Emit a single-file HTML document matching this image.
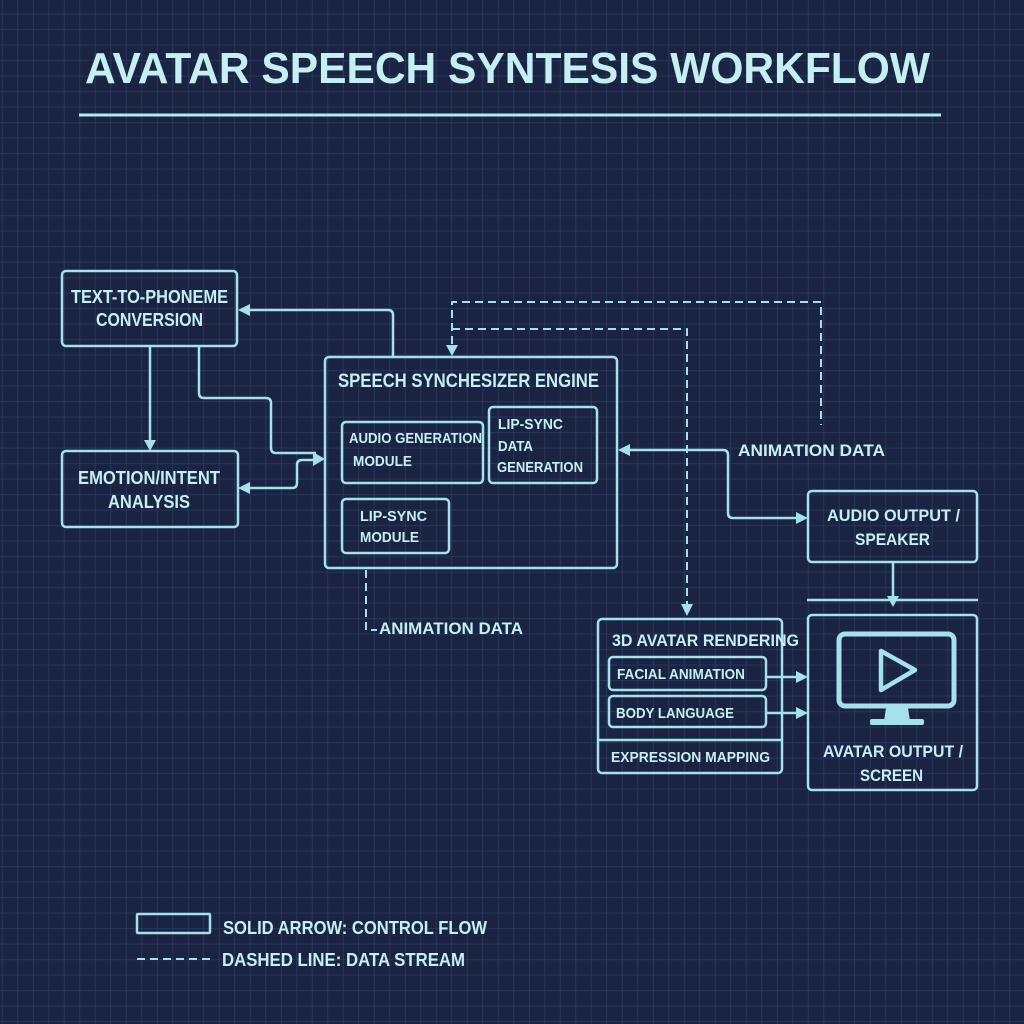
<!DOCTYPE html>
<html>
<head>
<meta charset="utf-8">
<style>
html,body{margin:0;padding:0;background:#1a2442;}
svg{display:block;}
text{font-family:"Liberation Sans",sans-serif;font-weight:bold;fill:#c6eff4;}
</style>
</head>
<body>
<svg width="1024" height="1024" viewBox="0 0 1024 1024" xmlns="http://www.w3.org/2000/svg">
<defs>
<pattern id="grid" patternUnits="userSpaceOnUse" x="1.8" y="13.7" width="15.5" height="15.5">
<path d="M0 0 H15.5 M0 0 V15.5" stroke="#2a3b5f" stroke-width="1.6" fill="none"/>
</pattern>
</defs>
<rect width="1024" height="1024" fill="#1a2442"/>
<rect width="1024" height="1024" fill="url(#grid)"/>

<!-- Title -->
<text x="85" y="83" font-size="44" textLength="845" lengthAdjust="spacingAndGlyphs">AVATAR SPEECH SYNTESIS WORKFLOW</text>
<rect x="79" y="113.5" width="862" height="3" fill="#b4e9f0"/>

<g fill="none" stroke="#a6e0ea" stroke-width="2.5" stroke-linejoin="round">
<!-- Boxes -->
<rect x="62" y="271" width="175" height="75" rx="4"/>
<rect x="62" y="451" width="176" height="76" rx="4"/>
<rect x="325" y="357" width="292" height="211" rx="4"/>
<rect x="342" y="422" width="141" height="61" rx="4"/>
<rect x="489" y="407" width="108" height="76" rx="4"/>
<rect x="342" y="499" width="107" height="54" rx="4"/>
<rect x="808" y="491" width="169" height="71" rx="4"/>
<rect x="808" y="615" width="169" height="175" rx="4"/>
<rect x="598" y="619" width="184" height="154" rx="4"/>
<line x1="598" y1="740" x2="782" y2="740"/>
<rect x="609" y="657" width="157" height="33" rx="4"/>
<rect x="609" y="696" width="157" height="31" rx="4"/>

<!-- Solid connectors -->
<path d="M150 346 V441"/>
<path d="M199 346 V393 Q199 398 204 398 H266 Q271 398 271 403 V448 Q271 453 276 453 H316"/>
<path d="M250 488 H292 Q297 488 297 483 V465 Q297 460 302 460 H316"/>
<path d="M393 357 V315 Q393 310 388 310 H249"/>
<path d="M630 450 H723 Q728 450 728 455 V513 Q728 518 733 518 H797"/>
<path d="M893 562 V597"/>
<path d="M807 600 H978"/>
<path d="M766 677 H797"/>
<path d="M766 713 H797"/>

<!-- Dashed connectors -->
<g stroke-dasharray="8 5" stroke-width="2">
<path d="M452 344 V302 H821 V425"/>
<path d="M452 329 H687 V604"/>
<path d="M366 570 V630 H377"/>
<path d="M137 959 H210"/>
</g>

<!-- Legend solid rect -->
<rect x="137" y="914" width="73" height="19" rx="1"/>

<!-- Monitor -->
<rect x="839" y="634" width="115" height="72" rx="6" stroke-width="5"/>
<polygon points="881,651 881,690 915,670" stroke-width="4.5"/>
</g>

<!-- Arrowheads -->
<g fill="#a6e0ea">
<polygon points="144,440 156,440 150,451"/>
<polygon points="313,452 313,466 325,459"/>
<polygon points="238,488 250,482 250,494"/>
<polygon points="238,310 250,304 250,316"/>
<polygon points="446,345 458,345 452,356"/>
<polygon points="681,604 693,604 687,616"/>
<polygon points="618,450 630,444 630,456"/>
<polygon points="796,512 796,524 808,518"/>
<polygon points="887,596 899,596 893,607"/>
<polygon points="796,671 796,683 808,677"/>
<polygon points="796,707 796,719 808,713"/>
<!-- monitor stand -->
<polygon points="886,708 908,708 910,721 884,721"/>
<rect x="870" y="719" width="54" height="6" rx="2"/>
</g>

<!-- Labels -->
<text x="71" y="303" font-size="18" textLength="157" lengthAdjust="spacingAndGlyphs">TEXT-TO-PHONEME</text>
<text x="96" y="326" font-size="18" textLength="107" lengthAdjust="spacingAndGlyphs">CONVERSION</text>
<text x="78" y="484" font-size="18" textLength="142" lengthAdjust="spacingAndGlyphs">EMOTION/INTENT</text>
<text x="108" y="508" font-size="18" textLength="82" lengthAdjust="spacingAndGlyphs">ANALYSIS</text>

<text x="338" y="387" font-size="19" textLength="261" lengthAdjust="spacingAndGlyphs">SPEECH SYNCHESIZER ENGINE</text>
<text x="349" y="443" font-size="15" textLength="133" lengthAdjust="spacingAndGlyphs">AUDIO GENERATION</text>
<text x="353" y="466" font-size="15" textLength="59" lengthAdjust="spacingAndGlyphs">MODULE</text>
<text x="498" y="429" font-size="15" textLength="65" lengthAdjust="spacingAndGlyphs">LIP-SYNC</text>
<text x="498" y="451" font-size="15" textLength="35" lengthAdjust="spacingAndGlyphs">DATA</text>
<text x="497" y="472" font-size="15" textLength="86" lengthAdjust="spacingAndGlyphs">GENERATION</text>
<text x="360" y="521" font-size="15" textLength="67" lengthAdjust="spacingAndGlyphs">LIP-SYNC</text>
<text x="360" y="542" font-size="15" textLength="59" lengthAdjust="spacingAndGlyphs">MODULE</text>

<text x="738" y="456" font-size="17" textLength="147" lengthAdjust="spacingAndGlyphs">ANIMATION DATA</text>
<text x="827" y="521" font-size="17" textLength="133" lengthAdjust="spacingAndGlyphs">AUDIO OUTPUT /</text>
<text x="855" y="545" font-size="17" textLength="75" lengthAdjust="spacingAndGlyphs">SPEAKER</text>
<text x="823" y="757" font-size="17" textLength="140" lengthAdjust="spacingAndGlyphs">AVATAR OUTPUT /</text>
<text x="860" y="781" font-size="17" textLength="63" lengthAdjust="spacingAndGlyphs">SCREEN</text>

<text x="612" y="646" font-size="17" textLength="187" lengthAdjust="spacingAndGlyphs">3D AVATAR RENDERING</text>
<text x="617" y="679" font-size="15" textLength="128" lengthAdjust="spacingAndGlyphs">FACIAL ANIMATION</text>
<text x="616" y="718" font-size="15" textLength="118" lengthAdjust="spacingAndGlyphs">BODY LANGUAGE</text>
<text x="611" y="762" font-size="15" textLength="159" lengthAdjust="spacingAndGlyphs">EXPRESSION MAPPING</text>

<text x="379" y="634" font-size="17" textLength="144" lengthAdjust="spacingAndGlyphs">ANIMATION DATA</text>

<text x="223" y="934" font-size="18" textLength="264" lengthAdjust="spacingAndGlyphs">SOLID ARROW: CONTROL FLOW</text>
<text x="222" y="966" font-size="18" textLength="243" lengthAdjust="spacingAndGlyphs">DASHED LINE: DATA STREAM</text>
</svg>
</body>
</html>
